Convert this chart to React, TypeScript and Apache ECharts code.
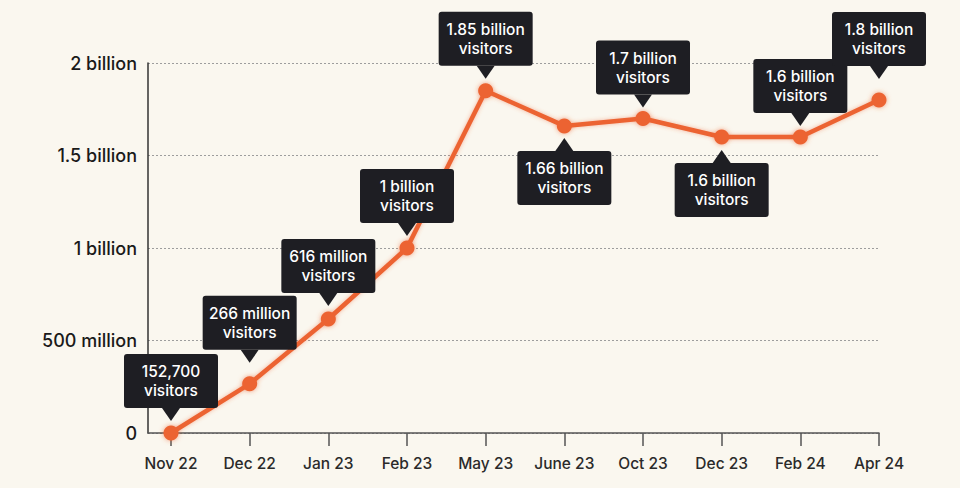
import React, { useEffect, useRef } from "react";
import * as echarts from "echarts";

// ---- data ----
const months = ["Nov 22", "Dec 22", "Jan 23", "Feb 23", "May 23", "June 23", "Oct 23", "Dec 23", "Feb 24", "Apr 24"];
const visitors = [152700, 266000000, 616000000, 1000000000, 1850000000, 1660000000, 1700000000, 1600000000, 1600000000, 1800000000];
const calloutTexts = [
  "152,700\nvisitors",
  "266 million\nvisitors",
  "616 million\nvisitors",
  "1 billion\nvisitors",
  "1.85 billion\nvisitors",
  "1.66 billion\nvisitors",
  "1.7 billion\nvisitors",
  "1.6 billion\nvisitors",
  "1.6 billion\nvisitors",
  "1.8 billion\nvisitors",
];
const calloutBelow = [false, false, false, false, false, true, false, true, false, false];
const yTicks = [0, 500000000, 1000000000, 1500000000, 2000000000];
const yTickLabels = ["0", "500 million", "1 billion", "1.5 billion", "2 billion"];

// ---- layout (not data) ----
const calloutGap = [25, 34, 26, 25, 25, 25, 24, 26, 24, 34];

const ORANGE = "#EC6331";
const DARK = "#1E1E23";
const FONT = "Inter, 'Noto Sans', sans-serif";

export default function App() {
  const ref = useRef<HTMLDivElement>(null);
  useEffect(() => {
    if (!ref.current) return;
    const chart = echarts.init(ref.current, undefined, { renderer: "svg" });
    const top = 63;
    const bottom = 55;
    const option: any = {
      animation: false,
      backgroundColor: "#FAF7EF",
      textStyle: { fontFamily: FONT },
      grid: [
        { left: 148, right: 81, top, bottom },
        { left: 171, right: 81, top, bottom },
      ],
      xAxis: [
        {
          gridIndex: 0,
          type: "value",
          min: 0,
          max: 1,
          axisLine: { show: true, lineStyle: { color: "#555", width: 1.5 } },
          axisTick: { show: false },
          axisLabel: { show: false },
          splitLine: { show: false },
        },
        {
          gridIndex: 1,
          type: "category",
          data: months,
          boundaryGap: false,
          axisLine: { show: false },
          axisTick: { show: true, length: 13, lineStyle: { color: "#555", width: 1.5 } },
          axisLabel: { color: "#2a2a2a", fontSize: 15.5, fontWeight: 500, margin: 22, fontFamily: FONT },
          splitLine: { show: false },
        },
      ],
      yAxis: [
        {
          gridIndex: 0,
          type: "value",
          min: 0,
          max: yTicks[yTicks.length - 1],
          interval: yTicks[1] - yTicks[0],
          axisLine: { show: true, lineStyle: { color: "#333", width: 1.5 } },
          axisTick: { show: false },
          axisLabel: {
            color: "#1a1a1a",
            fontSize: 18,
            fontWeight: 500,
            margin: 11,
            fontFamily: FONT,
            formatter: (v: number) => {
              const i = yTicks.indexOf(v);
              return i >= 0 ? yTickLabels[i] : "";
            },
          },
          splitLine: { show: true, lineStyle: { color: "#9d9d9d", type: [2, 2], width: 1 } },
        },
        {
          gridIndex: 1,
          type: "value",
          min: 0,
          max: yTicks[yTicks.length - 1],
          show: false,
          splitLine: { show: false },
        },
      ],
      series: [
        {
          type: "line",
          xAxisIndex: 1,
          yAxisIndex: 1,
          z: 2,
          symbol: "circle",
          symbolSize: 15,
          lineStyle: { color: ORANGE, width: 4.5, shadowBlur: 4, shadowColor: "rgba(236,99,49,0.45)" },
          itemStyle: { color: ORANGE, shadowBlur: 5, shadowColor: "rgba(236,99,49,0.6)" },
          label: {
            show: true,
            color: "#ffffff",
            fontSize: 15.5,
            fontWeight: 500,
            fontFamily: FONT,
            lineHeight: 19,
            backgroundColor: DARK,
            borderRadius: 3,
            padding: [8, 7],
            width: 80,
            align: "center",
            formatter: (p: any) => calloutTexts[p.dataIndex],
          },
          data: visitors.map((v, i) => ({
            value: v,
            label: { position: calloutBelow[i] ? "bottom" : "top", distance: calloutGap[i] - 7.5 },
          })),
        },
        {
          type: "scatter",
          xAxisIndex: 1,
          yAxisIndex: 1,
          z: 3,
          silent: true,
          symbol: "triangle",
          symbolSize: [18, 13],
          itemStyle: { color: DARK, opacity: 1 },
          data: visitors.map((v, i) => ({
            value: v,
            symbolRotate: calloutBelow[i] ? 0 : 180,
            symbolOffset: [0, calloutBelow[i] ? calloutGap[i] - 6.5 : -(calloutGap[i] - 6.5)],
          })),
        },
      ],
    };
    chart.setOption(option);
    return () => chart.dispose();
  }, []);
  return (
    <div
      ref={ref}
      style={{ position: "fixed", left: 0, top: 0, width: 960, height: 488, background: "#FAF7EF" }}
    />
  );
}
